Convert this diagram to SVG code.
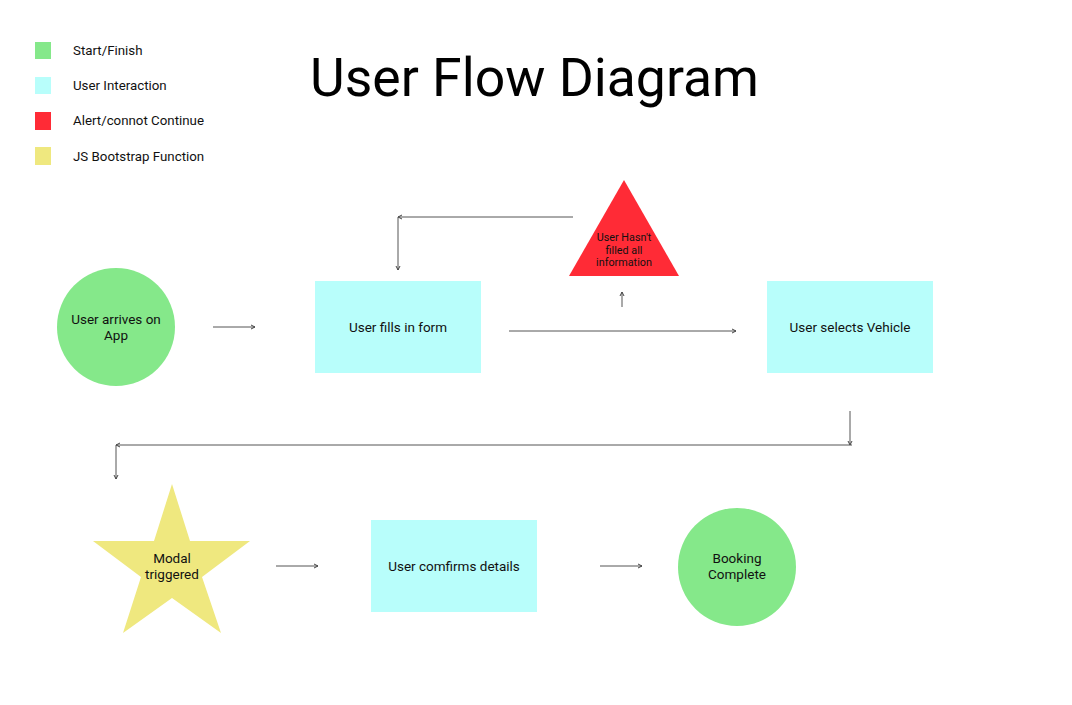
<svg xmlns="http://www.w3.org/2000/svg" width="1072" height="705" viewBox="0 0 1072 705">
<defs>
<style>
text{font-family:Roboto,"Liberation Sans",sans-serif;fill:#111;}
.lbl{font-size:13.5px;text-anchor:middle;}
.leg{font-size:13.3px;}
.tri{font-size:10.8px;text-anchor:middle;}
.green{fill:#85e88a;}
.cyan{fill:#b8fefb;}
.red{fill:#ff2b36;}
.yellow{fill:#efe87f;}
.conn{stroke:#555;stroke-width:1;fill:none;marker-end:url(#ah);}
</style>
<marker id="ah" viewBox="0 0 6 6" refX="5" refY="3" markerWidth="6" markerHeight="6" markerUnits="userSpaceOnUse" orient="auto">
<path d="M1,1 L5,3 L1,5" fill="none" stroke="#444" stroke-width="1"/>
</marker>
</defs>
<rect width="1072" height="705" fill="#fff"/>
<g id="legend">
<rect class="green" x="35" y="42" width="16" height="17"/>
<text class="leg" x="73" y="55">Start/Finish</text>
<rect class="cyan" x="35" y="77" width="16" height="17"/>
<text class="leg" x="73" y="90">User Interaction</text>
<rect class="red" x="35" y="112" width="16" height="18"/>
<text class="leg" x="73" y="125">Alert/connot Continue</text>
<rect class="yellow" x="35" y="147" width="16" height="18"/>
<text class="leg" x="73" y="161">JS Bootstrap Function</text>
</g>
<text x="310" y="96" style="font-size:53.5px;fill:#000">User Flow Diagram</text>
<g id="connectors">
<line class="conn" x1="213" y1="327" x2="255" y2="327"/>
<line class="conn" x1="509" y1="331" x2="736" y2="331"/>
<line class="conn" x1="622" y1="307" x2="622" y2="292"/>
<line class="conn" x1="573" y1="217" x2="398" y2="217"/>
<line class="conn" x1="398" y1="217" x2="398" y2="270"/>
<line class="conn" x1="850" y1="411" x2="850" y2="445"/>
<line class="conn" x1="852" y1="445" x2="116" y2="445"/>
<line class="conn" x1="116" y1="445" x2="116" y2="479"/>
<line class="conn" x1="276" y1="566" x2="318" y2="566"/>
<line class="conn" x1="600" y1="566" x2="642" y2="566"/>
</g>
<g id="start">
<circle class="green" cx="116" cy="327" r="59"/>
<text class="lbl" x="116" y="324">User arrives on</text>
<text class="lbl" x="116" y="340">App</text>
</g>
<g id="form">
<rect class="cyan" x="315" y="281" width="166" height="92"/>
<text class="lbl" x="398" y="332">User fills in form</text>
</g>
<g id="alert">
<polygon class="red" points="624,180 679,276 569,276"/>
<text class="tri" x="624" y="241">User Hasn't</text>
<text class="tri" x="624" y="254">filled all</text>
<text class="tri" x="624" y="266">information</text>
</g>
<g id="vehicle">
<rect class="cyan" x="767" y="281" width="166" height="92"/>
<text class="lbl" x="850" y="332">User selects Vehicle</text>
</g>
<g id="modal">
<polygon class="yellow" points="172,484 190,541 250,541 202,577 221,633 172,598 123,633 141,577 93,541 154,541"/>
<text class="lbl" x="172" y="563">Modal</text>
<text class="lbl" x="172" y="579">triggered</text>
</g>
<g id="confirm">
<rect class="cyan" x="371" y="520" width="166" height="92"/>
<text class="lbl" x="454" y="571">User comfirms details</text>
</g>
<g id="finish">
<circle class="green" cx="737" cy="567" r="59"/>
<text class="lbl" x="737" y="563">Booking</text>
<text class="lbl" x="737" y="579">Complete</text>
</g>
</svg>
